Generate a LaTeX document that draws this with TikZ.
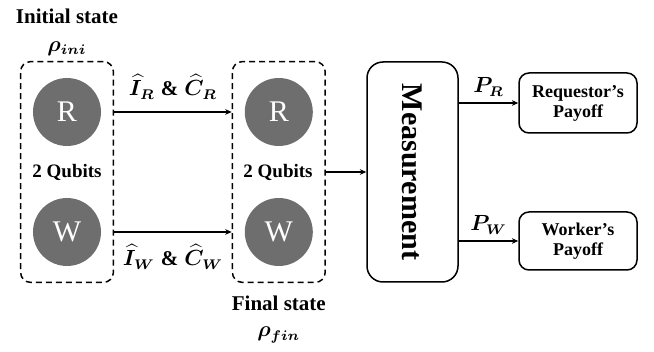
\documentclass[tikz,border=0pt]{standalone}
\usepackage{amsmath,amssymb,bm}
\usepackage{fontspec}
\setmainfont{Liberation Serif}
\usepackage{tikz}
\usetikzlibrary{arrows.meta,positioning,fit}
\definecolor{qfill}{HTML}{6E6E6E}
\tikzset{
  >={Stealth[length=3.2pt,width=2.8pt]},
  qubit/.style={circle,fill=qfill,draw=none,minimum size=34pt,inner sep=0pt,text=white,font=\fontsize{15}{15}\selectfont},
  grp/.style={draw,dash pattern=on 3pt off 2pt,line width=0.75pt,rounded corners=5pt},
  box/.style={draw,line width=0.75pt,rounded corners=5pt,align=center,inner sep=1pt,font=\bfseries\fontsize{9}{10}\selectfont},
  lab/.style={font=\bfseries\fontsize{10.5}{12}\selectfont,align=center,inner sep=1pt},
  arr/.style={->,line width=0.75pt},
}

\begin{document}
\begin{tikzpicture}[x=0.5pt,y=-0.5pt]
\useasboundingbox (0,0) rectangle (654,352);
% initial state
\node[qubit] (r1) at (67,112) {R};
\node[qubit] (w1) at (67,232) {W};
\node[lab,font=\bfseries\fontsize{9.5}{11}\selectfont] (q1) at (67,172) {2 Qubits};
\node[grp,fit=(r1)(w1),inner xsep=6pt,inner ysep=8pt] (g1) {};
\node[lab,above=1.5pt of g1] (rho1) {$\bm{\rho_{ini}}$};
\node[lab,above=6.5pt of rho1] (t1) {Initial state};
% final state
\node[qubit,right=71.5pt of r1] (r2) {R};
\node[qubit,right=71.5pt of w1] (w2) {W};
\node[lab,font=\bfseries\fontsize{9.5}{11}\selectfont] (q2) at (278,172) {2 Qubits};
\node[grp,fit=(r2)(w2),inner xsep=6pt,inner ysep=8pt] (g2) {};
\node[lab,below=5pt of g2] (t2) {Final state};
\node[lab,below=6pt of t2] (rho2) {$\bm{\rho_{fin}}$};
% measurement and payoffs
\node[box,minimum width=45.5pt,minimum height=110pt,rounded corners=8pt] (meas) at (412.5,172)
  {\fontsize{15}{15}\selectfont\rotatebox{-90}{Measurement}};
\node[box,minimum width=59pt,minimum height=30pt] (req) at (578,103) {Requestor’s\\Payoff};
\node[box,minimum width=59pt,minimum height=29pt] (wrk) at (578,241) {Worker’s\\Payoff};
% connectors
\draw[arr] (g1.east |- r1) -- (g2.west |- r1) node[lab,midway,above=5pt] (opr) {$\bm{\widehat{I}_R}\;\text{\&}\;\bm{\widehat{C}_R}$};
\draw[arr] (g1.east |- w1) -- (g2.west |- w1) node[lab,midway,below=5pt] (opw) {$\bm{\widehat{I}_W}\;\text{\&}\;\bm{\widehat{C}_W}$};
\draw[arr] (g2.east |- q2) -- (meas.west |- q2);
\draw[arr] (meas.east |- req) -- (req.west) node[lab,midway,above=2pt] (pr) {$\bm{P_R}$};
\draw[arr] (meas.east |- wrk) -- (wrk.west) node[lab,midway,above=2pt] (pw) {$\bm{P_W}$};
\end{tikzpicture}
\end{document}
